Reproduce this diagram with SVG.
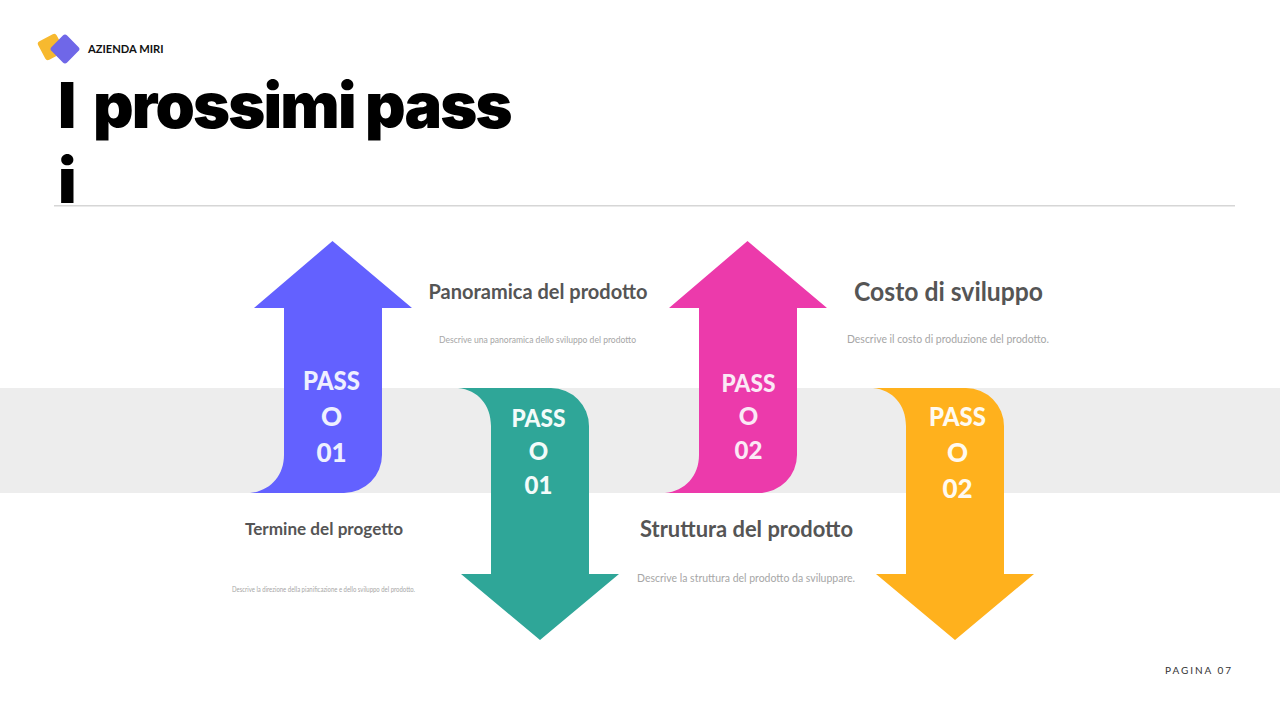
<svg xmlns="http://www.w3.org/2000/svg" width="1280" height="720" viewBox="0 0 1280 720">
<style>
.pt{font-family:"Lato","Noto Sans","Liberation Sans",sans-serif}
.h{font-weight:700;fill:#555;text-anchor:middle}
.d{fill:#a6a6a6;text-anchor:middle}
.s{font-weight:900;text-anchor:middle}
</style>
<rect width="1280" height="720" fill="#fff"/>
<rect id="band" x="0" y="388" width="1280" height="105" fill="#ededed"/>
<rect id="rule" x="54" y="205" width="1181" height="1.5" fill="#d6d6d6"/>
<g id="logo">
<rect x="40.500" y="36.500" width="21" height="21" rx="3" fill="#f7b92f" transform="rotate(-28 51 47)"/>
<rect x="54" y="38" width="22" height="22" rx="3" fill="#6f67e8" transform="rotate(45 65 49)"/>
<text x="88" y="53" class="pt" font-size="12" font-weight="700" fill="#111" textLength="75.500" lengthAdjust="spacingAndGlyphs">AZIENDA MIRI</text>
</g>
<g id="title" font-family="Inter,Roboto,sans-serif" font-weight="900" font-size="63" fill="#000">
<text y="127.500" letter-spacing="-1.8"><tspan x="58">I</tspan> <tspan x="93">prossimi</tspan> <tspan x="365">pass</tspan></text>
<text x="58" y="203">i</text>
</g>
<g id="step-1">
<path d="M332.500 241L412 308H382V455A38 38 0 0 1 344 493H250C270 491 284 476 284 455V308H254Z" fill="#6361ff"/>
<g class="pt s" fill="#eef0ff" font-size="26"><text x="331.500" y="390" textLength="57" lengthAdjust="spacingAndGlyphs">PASS</text><text x="331.500" y="426">O</text><text x="331.500" y="462">01</text></g>
<text x="324" y="535" class="pt h" font-size="17.500" textLength="158" lengthAdjust="spacingAndGlyphs">Termine del progetto</text>
<text x="323.500" y="592" class="pt d" font-size="7" textLength="183" lengthAdjust="spacingAndGlyphs">Descrive la direzione della pianificazione e dello sviluppo del prodotto.</text>
</g>
<g id="step-2">
<path d="M540 640L619 574H589V426A38 38 0 0 0 551 388H458C478 390 491 405 491 426V574H461Z" fill="#2fa698"/>
<g class="pt s" fill="#f3fbfa" font-size="24"><text x="538.500" y="427" textLength="54" lengthAdjust="spacingAndGlyphs">PASS</text><text x="538.500" y="460">O</text><text x="538.500" y="494">01</text></g>
<text x="538" y="299" class="pt h" font-size="20" textLength="219" lengthAdjust="spacingAndGlyphs">Panoramica del prodotto</text>
<text x="537.500" y="343" class="pt d" font-size="9" textLength="197" lengthAdjust="spacingAndGlyphs">Descrive una panoramica dello sviluppo del prodotto</text>
</g>
<g id="step-3">
<path d="M747.500 241L827 308H797V455A38 38 0 0 1 759 493H665C685 491 699 476 699 455V308H669Z" fill="#ec3aab"/>
<g class="pt s" fill="#fbe9f6" font-size="24"><text x="748.500" y="392" textLength="54" lengthAdjust="spacingAndGlyphs">PASS</text><text x="748.500" y="425">O</text><text x="748.500" y="459">02</text></g>
<text x="746.500" y="537" class="pt h" font-size="22" textLength="213" lengthAdjust="spacingAndGlyphs">Struttura del prodotto</text>
<text x="746" y="582" class="pt d" font-size="10.500" textLength="218" lengthAdjust="spacingAndGlyphs">Descrive la struttura del prodotto da sviluppare.</text>
</g>
<g id="step-4">
<path d="M955 640L1034 574H1004V426A38 38 0 0 0 966 388H873C893 390 906 405 906 426V574H876Z" fill="#ffb11d"/>
<g class="pt s" fill="#fffaf0" font-size="26"><text x="957.500" y="426" textLength="57" lengthAdjust="spacingAndGlyphs">PASS</text><text x="957.500" y="462">O</text><text x="957.500" y="498">02</text></g>
<text x="948.500" y="301" class="pt h" font-size="26" textLength="189" lengthAdjust="spacingAndGlyphs">Costo di sviluppo</text>
<text x="948" y="343" class="pt d" font-size="10.500" textLength="202" lengthAdjust="spacingAndGlyphs">Descrive il costo di produzione del prodotto.</text>
</g>
<text id="page" x="1165" y="674" class="pt" font-size="10" fill="#333" textLength="66">PAGINA 07</text>
</svg>
